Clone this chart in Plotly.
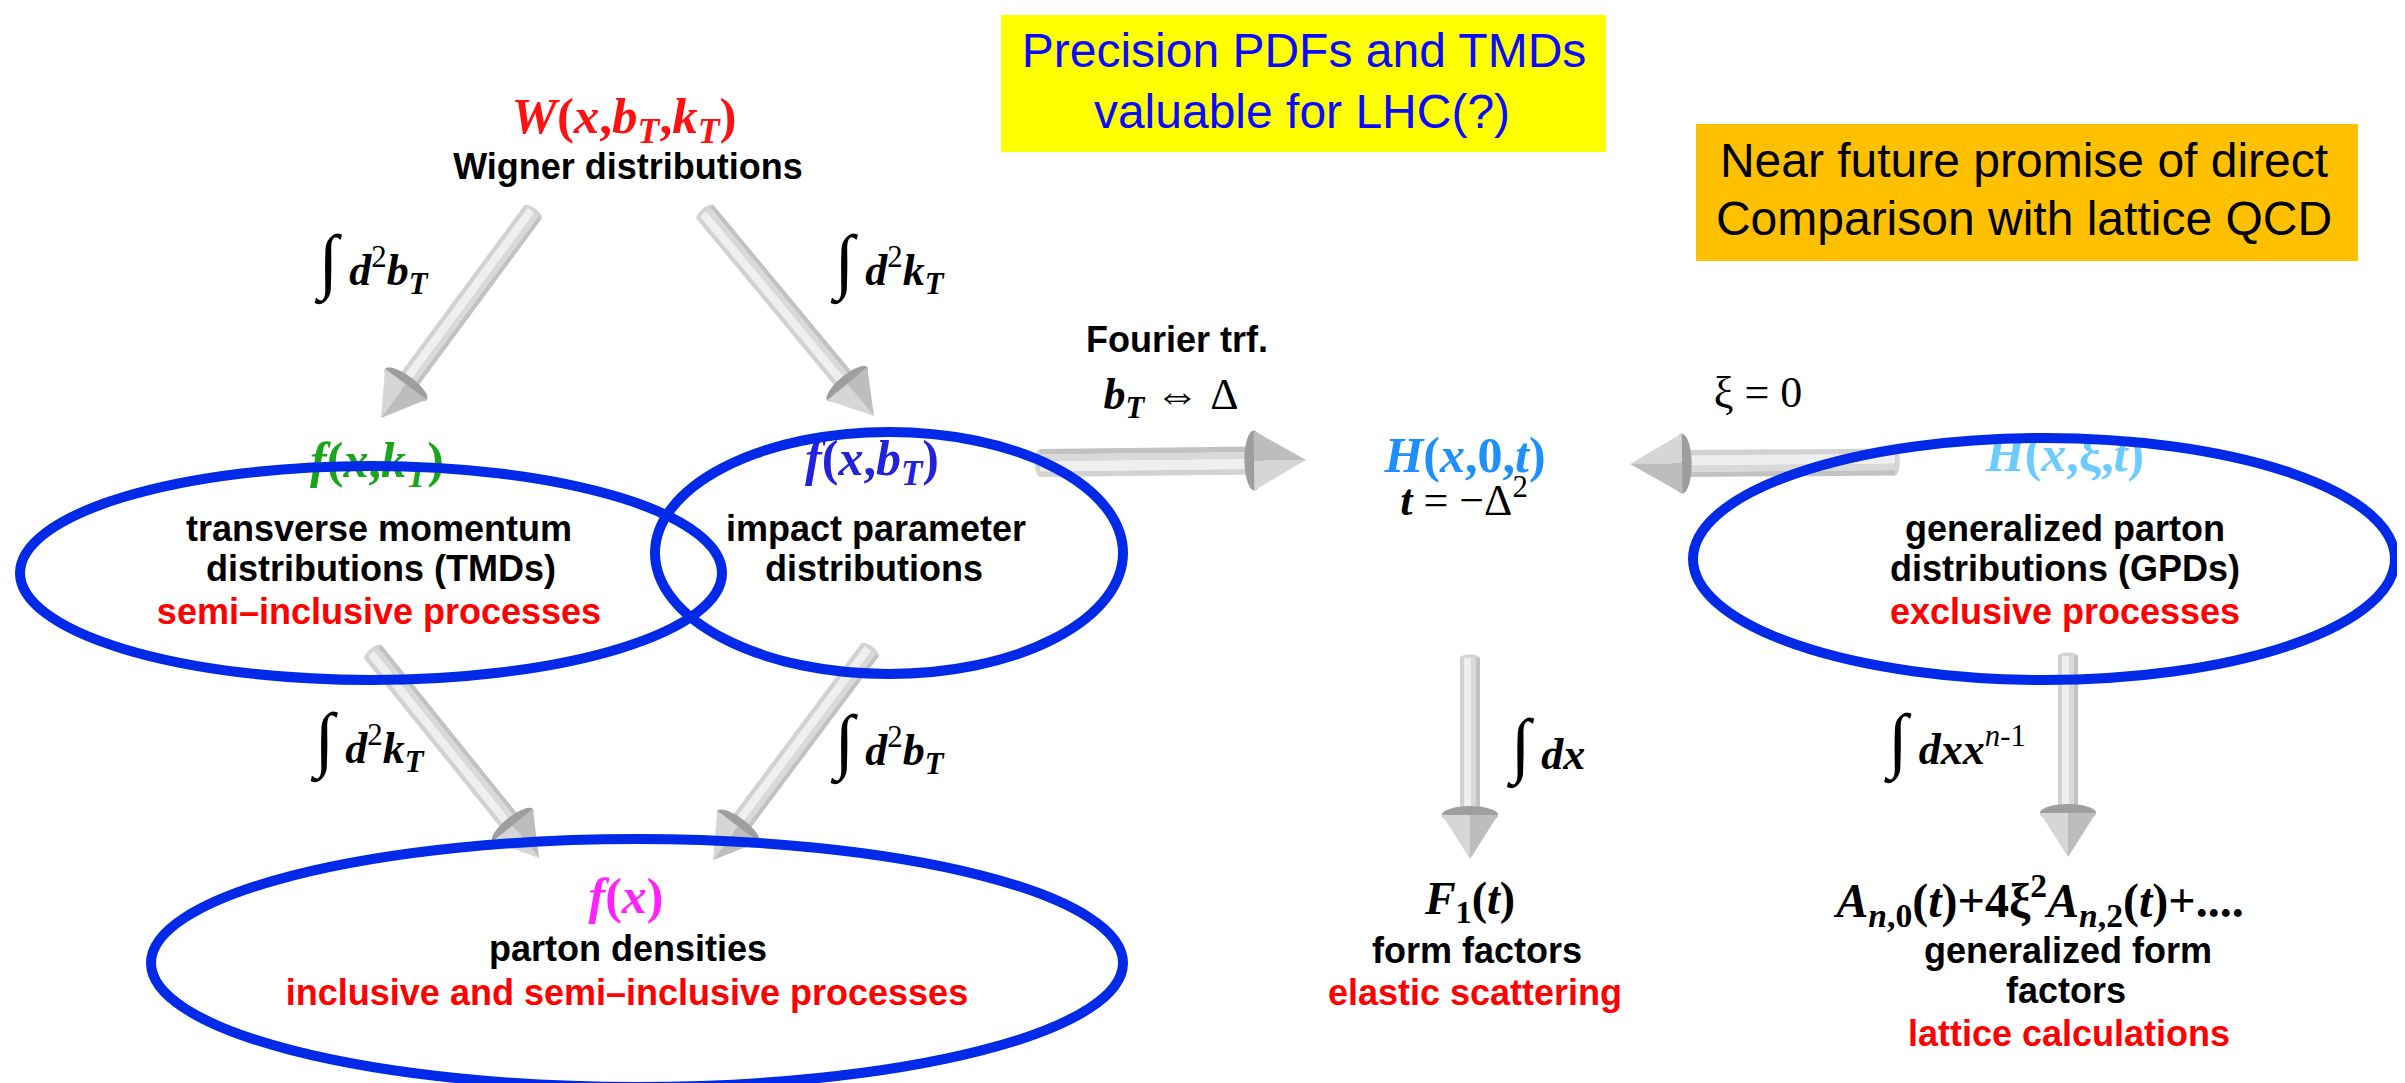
import math
import plotly.graph_objects as go

# ---------------- content ----------------
yellow_lines = ["Precision PDFs and TMDs", "valuable for LHC(?)"]
orange_lines = ["Near future promise of direct", "Comparison with lattice QCD"]

dist_names = [
    "<b><i>W</i>(<i>x</i>,<i>b</i><sub><i>T</i></sub>,<i>k</i><sub><i>T</i></sub>)</b>",
    "<b><i>f</i>(<i>x</i>,<i>k</i><sub><i>T</i></sub>)</b>",
    "<b><i>f</i>(<i>x</i>,<i>b</i><sub><i>T</i></sub>)</b>",
    "<b><i>H</i>(<i>x</i>,0,<i>t</i>)</b>",
    "<b><i>H</i>(<i>x</i>,ξ,<i>t</i>)</b>",
    "<b><i>f</i>(<i>x</i>)</b>",
    "<b><i>F</i><sub>1</sub>(<i>t</i>)</b>",
    "<b><i>A</i><sub><i>n</i>,0</sub>(<i>t</i>)+4ξ<sup>2</sup><i>A</i><sub><i>n</i>,2</sub>(<i>t</i>)+....</b>",
]
dist_colors = ["#ff1111", "#1aa51a", "#2222dd", "#1e8fff", "#6cccff", "#ff22ff", "#000000", "#000000"]
dist_sizes = [51, 50, 50, 50, 50, 50, 46, 48]

desc_lines = [
    "Wigner distributions",
    "transverse momentum", "distributions (TMDs)",
    "impact parameter", "distributions",
    "generalized parton", "distributions (GPDs)",
    "parton densities",
    "form factors",
    "generalized form", "factors",
    "Fourier trf.",
]
process_lines = [
    "semi\u2013inclusive processes",
    "exclusive processes",
    "inclusive and semi\u2013inclusive processes",
    "elastic scattering",
    "lattice calculations",
]

INT = "<span style='font-size:72px'>\u222b</span> "
op_labels = [
    INT + "<b><i>d</i></b><sup>2</sup><b><i>b</i><sub><i>T</i></sub></b>",
    INT + "<b><i>d</i></b><sup>2</sup><b><i>k</i><sub><i>T</i></sub></b>",
    INT + "<b><i>d</i></b><sup>2</sup><b><i>k</i><sub><i>T</i></sub></b>",
    INT + "<b><i>d</i></b><sup>2</sup><b><i>b</i><sub><i>T</i></sub></b>",
    INT + "<b><i>dx</i></b>",
    INT + "<b><i>dxx</i></b><sup><i>n</i>-1</sup>",
    "<b><i>b</i><sub><i>T</i></sub></b> \u21d4 \u0394",
    "\u03be = 0",
    "<b><i>t</i></b> = \u2212\u0394<sup>2</sup>",
]

# ---------------- layout positions (pixel space) ----------------
W, H = 2405, 1083
yellow_box = (993, 7, 1598, 144)
orange_box = (1688, 116, 2350, 253)
yellow_pos = [(1296, 47), (1294, 108)]
orange_pos = [(2016, 157), (2016, 215)]
dist_pos = [(616, 112), (369, 456), (864, 454), (1457, 451), (2057, 450), (618, 892), (1462, 894), (2032, 897)]
desc_pos = [(620, 162), (371, 524), (373, 564), (868, 524), (866, 564), (2057, 524), (2057, 564),
            (620, 944), (1469, 946), (2060, 946), (2058, 986), (1169, 335)]
proc_pos = [(371, 607), (2057, 607), (619, 988), (1467, 988), (2061, 1029)]
op_pos = [(365, 266), (881, 266), (361, 744), (881, 746), (1540, 750), (1949, 745),
          (1163, 390), (1750, 388), (1456, 496)]

ellipses = [  # cx, cy, rx, ry
    (363, 565, 351, 107),
    (881, 545, 234, 121),
    (2036, 551, 351, 121),
    (629, 955, 486, 124),
]
arrows = [  # x0, y0, x1, y1, shaft, head width, head length
    (525, 204, 373, 410, 22, 52, 42),
    (697, 204, 866, 408, 22, 52, 42),
    (1032, 455, 1298, 452, 28, 60, 52),
    (1887, 454, 1622, 456, 27, 60, 52),
    (365, 644, 531, 850, 22, 52, 42),
    (862, 642, 705, 852, 22, 52, 42),
    (1462, 650, 1462, 851, 20, 56, 44),
    (2060, 648, 2060, 849, 20, 56, 44),
]

SANS = "Liberation Sans, Arial, Helvetica, sans-serif"
SERIF = "Liberation Serif, Times New Roman, serif"

fig = go.Figure()


def add_text(x, y, text, size, color, family):
    fig.add_trace(go.Scatter(
        x=[x], y=[y], mode="text", text=[text], textposition="middle center",
        textfont=dict(size=size, color=color, family=family),
        hoverinfo="skip", showlegend=False, cliponaxis=False))


def path(pts):
    return "M " + " L ".join(f"{px:.1f},{py:.1f}" for px, py in pts) + " Z"


shapes = []

# boxes
shapes.append(dict(type="rect", x0=yellow_box[0], y0=yellow_box[1], x1=yellow_box[2], y1=yellow_box[3],
                   fillcolor="#ffff00", line=dict(width=0), layer="below"))
shapes.append(dict(type="rect", x0=orange_box[0], y0=orange_box[1], x1=orange_box[2], y1=orange_box[3],
                   fillcolor="#ffc000", line=dict(width=0), layer="below"))


def arrow_shapes(x0, y0, x1, y1, sw, hw, hl):
    L = math.hypot(x1 - x0, y1 - y0)
    ux, uy = (x1 - x0) / L, (y1 - y0) / L
    nx, ny = -uy, ux
    bx, by = x1 - ux * hl, y1 - uy * hl
    out = []
    cap = [(x0 + nx * sw / 2 * math.cos(t) + ux * sw * 0.18 * math.sin(t),
            y0 + ny * sw / 2 * math.cos(t) + uy * sw * 0.18 * math.sin(t))
           for t in [i * 2 * math.pi / 24 for i in range(24)]]
    out.append(dict(type="path", path=path(cap), fillcolor="#d4d4d4", line=dict(width=0), layer="below"))
    strips = [(-0.5, -0.3, "#c2c2c2"), (-0.3, -0.05, "#d9d9d9"), (-0.05, 0.3, "#efefef"), (0.3, 0.5, "#d2d2d2")]
    for a, b, c in strips:
        pts = [(x0 + nx * sw * a, y0 + ny * sw * a), (bx + nx * sw * a, by + ny * sw * a),
               (bx + nx * sw * b, by + ny * sw * b), (x0 + nx * sw * b, y0 + ny * sw * b)]
        out.append(dict(type="path", path=path(pts), fillcolor=c, line=dict(width=0), layer="below"))
    ring = [(bx + nx * hw / 2 * math.cos(t) - ux * hw * 0.16 * math.sin(t),
             by + ny * hw / 2 * math.cos(t) - uy * hw * 0.16 * math.sin(t))
            for t in [i * 2 * math.pi / 32 for i in range(32)]]
    out.append(dict(type="path", path=path(ring), fillcolor="#9e9e9e", line=dict(width=0), layer="below"))
    e1 = (bx + nx * hw / 2, by + ny * hw / 2)
    e2 = (bx - nx * hw / 2, by - ny * hw / 2)
    out.append(dict(type="path", path=path([e1, (x1, y1), (bx, by)]), fillcolor="#d6d6d6",
                    line=dict(width=0), layer="below"))
    out.append(dict(type="path", path=path([e2, (x1, y1), (bx, by)]), fillcolor="#bdbdbd",
                    line=dict(width=0), layer="below"))
    return out


for a in arrows:
    shapes.extend(arrow_shapes(*a))

for cx, cy, rx, ry in ellipses:
    shapes.append(dict(type="circle", x0=cx - rx, x1=cx + rx, y0=cy - ry, y1=cy + ry,
                       line=dict(color="#0029e8", width=10), fillcolor="rgba(0,0,0,0)", layer="above"))

# texts
for t, (x, y) in zip(yellow_lines, yellow_pos):
    add_text(x, y, t, 48, "#0a0aff", SANS)
for t, (x, y) in zip(orange_lines, orange_pos):
    add_text(x, y, t, 48, "#000000", SANS)
for t, c, s, (x, y) in zip(dist_names, dist_colors, dist_sizes, dist_pos):
    add_text(x, y, t, s, c, SERIF)
for t, (x, y) in zip(desc_lines, desc_pos):
    add_text(x, y, "<b>" + t + "</b>", 36, "#000000", SANS)
for t, (x, y) in zip(process_lines, proc_pos):
    add_text(x, y, "<b>" + t + "</b>", 36, "#ff0000", SANS)
for t, (x, y) in zip(op_labels, op_pos):
    add_text(x, y, t, 44, "#000000", SERIF)

fig.update_layout(
    width=W, height=H, margin=dict(l=0, r=0, t=0, b=0),
    paper_bgcolor="white", plot_bgcolor="white", showlegend=False,
    xaxis=dict(range=[0, W], visible=False, fixedrange=True),
    yaxis=dict(range=[H, 0], visible=False, fixedrange=True),
    shapes=shapes,
)

fig.write_html("out.html")
